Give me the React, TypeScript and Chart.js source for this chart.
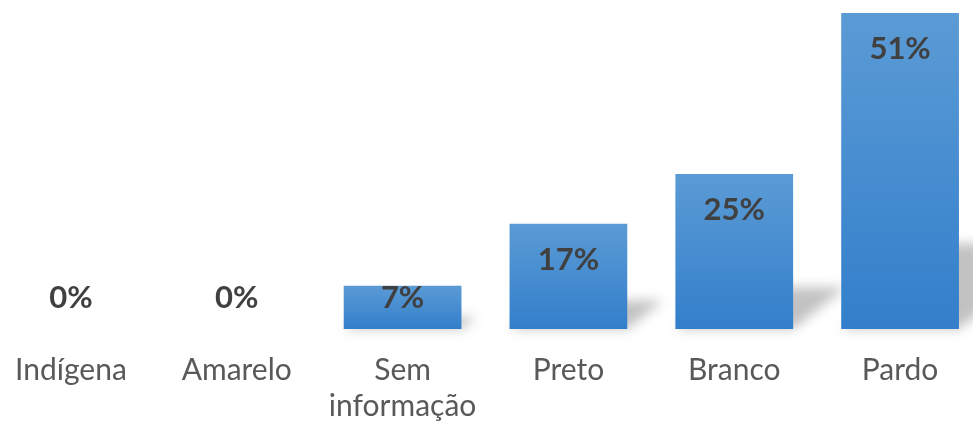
import React, { useEffect, useRef } from "react";
import { Chart, registerables } from "chart.js";

Chart.register(...registerables);

const categories: (string | string[])[] = ["Indígena", "Amarelo", ["Sem", "informação"], "Preto", "Branco", "Pardo"];
const values: number[] = [0, 0, 7, 17, 25, 51];
const valueLabels: string[] = ["0%", "0%", "7%", "17%", "25%", "51%"];

const TOP_COLOR = "rgb(91,155,213)";
const BOTTOM_COLOR = "rgb(51,127,203)";

const shadowPlugin = {
  id: "barShadow",
  beforeDatasetsDraw(chart: any) {
    const ctx = chart.ctx;
    const meta = chart.getDatasetMeta(0);
    ctx.save();
    ctx.filter = "blur(6px)";
    ctx.fillStyle = "rgba(0,0,0,0.24)";
    meta.data.forEach((el: any) => {
      const h = el.base - el.y;
      if (h <= 1) return;
      const left = el.x - el.width / 2;
      const right = el.x + el.width / 2;
      const dx = h * 0.34;
      const dy = h * 0.27;
      ctx.beginPath();
      ctx.moveTo(left, el.base);
      ctx.lineTo(right, el.base);
      ctx.lineTo(right + dx, el.base - dy);
      ctx.lineTo(left + dx, el.base - dy);
      ctx.closePath();
      ctx.fill();
    });
    ctx.restore();
  },
};

const labelPlugin = {
  id: "valueLabels",
  afterDatasetsDraw(chart: any) {
    const ctx = chart.ctx;
    const meta = chart.getDatasetMeta(0);
    ctx.save();
    ctx.font = "bold 31px Lato";
    ctx.fillStyle = "#404040";
    ctx.textAlign = "center";
    ctx.textBaseline = "middle";
    meta.data.forEach((el: any, i: number) => {
      const y = Math.min(el.y + 36, el.base - 31);
      ctx.fillText(valueLabels[i], el.x, y);
    });
    ctx.restore();
  },
};

export default function App() {
  const ref = useRef<HTMLCanvasElement | null>(null);
  useEffect(() => {
    document.body.style.overflow = "hidden";
    const canvas = ref.current!;
    const chart = new Chart(canvas, {
      type: "bar",
      data: {
        labels: categories,
        datasets: [
          {
            data: values,
            backgroundColor: (c: any) => {
              const ch = c.chart;
              const y = ch.scales?.y;
              if (!y || c.raw === undefined || !ch.ctx) return TOP_COLOR;
              const top = y.getPixelForValue(c.raw);
              const base = y.getPixelForValue(0);
              if (!isFinite(top) || !isFinite(base) || base - top < 1) return TOP_COLOR;
              const g = ch.ctx.createLinearGradient(0, top, 0, base);
              g.addColorStop(0, TOP_COLOR);
              g.addColorStop(1, BOTTOM_COLOR);
              return g;
            },
            borderWidth: 0,
            barPercentage: 0.71,
            categoryPercentage: 1,
          },
        ],
      },
      options: {
        responsive: false,
        animation: false,
        layout: { padding: { top: 13, left: 0, right: 0, bottom: 0 } },
        plugins: { legend: { display: false }, tooltip: { enabled: false } },
        scales: {
          x: {
            grid: { display: false, drawTicks: false },
            border: { display: false },
            ticks: {
              color: "#595959",
              font: { family: "Lato", size: 30, lineHeight: 1.2 },
              padding: 23,
              maxRotation: 0,
              autoSkip: false,
            },
            afterFit: (s: any) => {
              s.height = 94;
            },
          },
          y: {
            display: false,
            min: 0,
            max: 51,
          },
        },
      },
      plugins: [shadowPlugin, labelPlugin],
    });
    return () => chart.destroy();
  }, []);
  return (
    <div style={{ position: "fixed", left: -12, top: 0, width: 995, height: 423 }}>
      <canvas ref={ref} width={995} height={423} style={{ width: 995, height: 423 }} />
    </div>
  );
}
